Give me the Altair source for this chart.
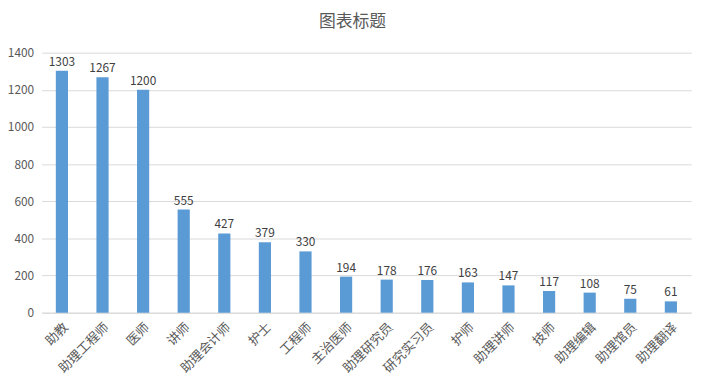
import altair as alt
import pandas as pd

categories = ["助教", "助理工程师", "医师", "讲师", "助理会计师", "护士", "工程师", "主治医师",
              "助理研究员", "研究实习员", "护师", "助理讲师", "技师", "助理编辑", "助理馆员", "助理翻译"]
values = [1303, 1267, 1200, 555, 427, 379, 330, 194, 178, 176, 163, 147, 117, 108, 75, 61]

df = pd.DataFrame({"cat": categories, "val": values})
FONT = "Noto Sans CJK SC"

base = alt.Chart(df).encode(
    x=alt.X("cat:N", sort=categories, title=None,
            scale=alt.Scale(paddingInner=0.7, paddingOuter=0.35),
            axis=alt.Axis(labelAngle=-45, labelFontSize=13, labelColor="#595959", labelFont=FONT,
                          domainColor="#D9D9D9", ticks=False, labelPadding=8, grid=False)),
    y=alt.Y("val:Q", title=None,
            scale=alt.Scale(domain=[0, 1400]),
            axis=alt.Axis(values=list(range(0, 1401, 200)), format="d", labelFontSize=12,
                          labelColor="#595959", labelFont=FONT, domain=False, ticks=False,
                          gridColor="#D9D9D9", labelPadding=8)),
)

bars = base.mark_bar(color="#5B9BD5")
labels = base.mark_text(dy=-9, fontSize=12, color="#404040", font=FONT).encode(text="val:Q")

chart = (bars + labels).properties(
    width=657, height=263,
    title=alt.TitleParams("图表标题", fontSize=17, font=FONT, color="#595959", fontWeight="normal",
                          dx=-14, offset=16),
    autosize=alt.AutoSizeParams(type="none"),
    padding={"left": 34, "top": 43, "right": 16, "bottom": 74},
).configure_view(stroke=None)

chart.save("out.html", embed_options={"renderer": "svg", "actions": False})
